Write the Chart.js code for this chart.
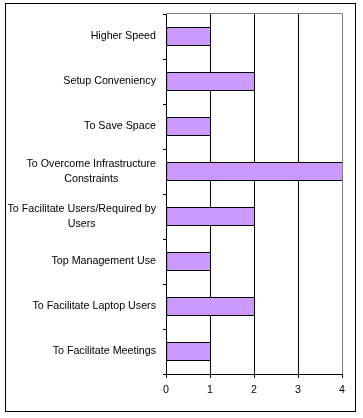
<!DOCTYPE html>
<html>
<head>
<meta charset="utf-8">
<script src="https://cdn.jsdelivr.net/npm/chart.js@4/dist/chart.umd.min.js"></script>
<style>
  html, body { margin: 0; padding: 0; background: #ffffff; }
  #wrap { position: relative; width: 363px; height: 418px; }
  canvas { display: block; }
</style>
</head>
<body>
<div id="wrap"><canvas id="c" width="363" height="418"></canvas></div>
<script>
const categories = [
  'Higher Speed',
  'Setup Conveniency',
  'To Save Space',
  ['To Overcome Infrastructure', 'Constraints'],
  ['To Facilitate Users/Required by', 'Users'],
  'Top Management Use',
  'To Facilitate Laptop Users',
  'To Facilitate Meetings'
];
const counts = [1, 2, 1, 4, 2, 1, 2, 1];
const xTicks = [0, 1, 2, 3, 4];

const FONT_FAMILY = '"Liberation Sans", Arial, sans-serif';
const FONT_SIZE = 10.7;

const framePlugin = {
  id: 'frame',
  beforeDraw(chart) {
    const ctx = chart.ctx;
    ctx.save();
    ctx.fillStyle = '#ffffff';
    ctx.fillRect(0, 0, chart.width, chart.height);
    ctx.restore();
  },
  afterDraw(chart) {
    const ctx = chart.ctx;
    const a = chart.chartArea;
    ctx.save();
    // outer chart border
    ctx.strokeStyle = '#000000';
    ctx.lineWidth = 1;
    ctx.strokeRect(5.5, 3.5, 350, 408);
    // plot area top/right border (gray)
    ctx.strokeStyle = '#808080';
    ctx.beginPath();
    ctx.moveTo(Math.round(a.left) + 0.5, Math.round(a.top) - 0.5);
    ctx.lineTo(Math.round(a.right) + 0.5, Math.round(a.top) - 0.5);
    ctx.lineTo(Math.round(a.right) + 0.5, Math.round(a.bottom) + 0.5);
    ctx.stroke();
    // category labels: block right-aligned, lines centred within the block
    const y = chart.scales.y;
    ctx.fillStyle = '#000000';
    ctx.font = FONT_SIZE + 'px ' + FONT_FAMILY;
    ctx.textAlign = 'center';
    ctx.textBaseline = 'middle';
    const lineH = 15;
    const rightX = a.left - 10;
    chart.data.labels.forEach((lab, i) => {
      const lines = Array.isArray(lab) ? lab : [lab];
      const w = Math.max(...lines.map(l => ctx.measureText(l).width));
      const cx = rightX - w / 2;
      const cy = y.getPixelForValue(i);
      lines.forEach((l, j) => {
        ctx.fillText(l, cx, cy + (j - (lines.length - 1) / 2) * lineH);
      });
    });
    ctx.restore();
  }
};

new Chart(document.getElementById('c'), {
  type: 'bar',
  data: {
    labels: categories,
    datasets: [{
      data: counts,
      backgroundColor: '#CC99FF',
      borderColor: '#000000',
      borderWidth: { top: 1, bottom: 1, left: 1, right: 0 },
      borderSkipped: false,
      inflateAmount: 0,
      barThickness: 19
    }]
  },
  options: {
    indexAxis: 'y',
    responsive: false,
    animation: false,
    devicePixelRatio: 1,
    layout: { padding: { top: 14, right: 21, left: 0, bottom: 0 } },
    plugins: { legend: { display: false }, tooltip: { enabled: false } },
    scales: {
      x: {
        min: xTicks[0],
        max: xTicks[xTicks.length - 1],
        afterBuildTicks(scale) { scale.ticks = xTicks.map(v => ({ value: v })); },
        afterFit(scale) { scale.height = 44; },
        grid: {
          color: ctx => (ctx.tick && ctx.tick.value === xTicks[xTicks.length - 1]) ? '#808080' : '#000000',
          tickColor: '#000000',
          lineWidth: 1,
          drawTicks: true,
          tickLength: 4
        },
        border: { display: true, color: '#000000', width: 1 },
        ticks: {
          color: '#000000',
          font: { family: FONT_FAMILY, size: FONT_SIZE },
          padding: 6,
          maxRotation: 0
        }
      },
      y: {
        afterFit(scale) { scale.width = 166; },
        grid: {
          offset: true,
          drawOnChartArea: false,
          drawTicks: true,
          tickLength: 3,
          color: '#000000',
          tickColor: '#000000'
        },
        border: { display: true, color: '#000000', width: 1 },
        ticks: { display: false }
      }
    }
  },
  plugins: [framePlugin]
});
</script>
</body>
</html>
